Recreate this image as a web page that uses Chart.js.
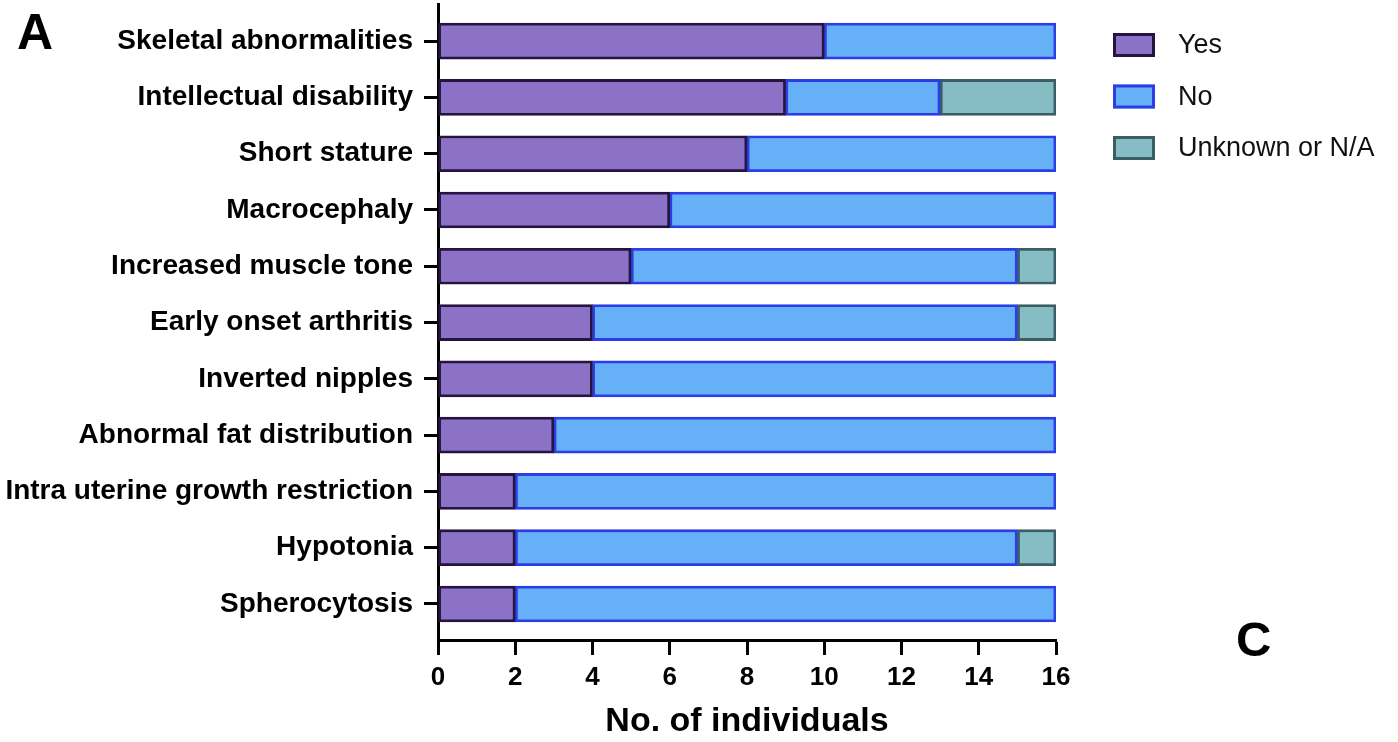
<!DOCTYPE html>
<html>
<head>
<meta charset="utf-8">
<script src="https://cdn.jsdelivr.net/npm/chart.js@4/dist/chart.umd.min.js"></script>
<style>
  html, body { margin: 0; padding: 0; background: #ffffff; }
  #wrap { width: 1398px; height: 742px; position: relative; }
</style>
</head>
<body>
<div id="wrap"><canvas id="c" width="1398" height="742"></canvas></div>
<script>
// Clinical features and the number of individuals in each answer group
const categories = [
  'Skeletal abnormalities',
  'Intellectual disability',
  'Short stature',
  'Macrocephaly',
  'Increased muscle tone',
  'Early onset arthritis',
  'Inverted nipples',
  'Abnormal fat distribution',
  'Intra uterine growth restriction',
  'Hypotonia',
  'Spherocytosis'
];
const yesCounts     = [10, 9, 8, 6, 5, 4, 4, 3, 2, 2, 2];
const noCounts      = [6, 4, 8, 10, 10, 11, 12, 13, 14, 13, 14];
const unknownCounts = [0, 3, 0, 0, 1, 1, 0, 0, 0, 1, 0];
const seriesNames   = ['Yes', 'No', 'Unknown or N/A'];
const xTicks        = [0, 2, 4, 6, 8, 10, 12, 14, 16];

const FONT = "'Liberation Sans', Arial, Helvetica, sans-serif";

const toPoints = arr => arr.map((v, i) => ({ x: v, y: i }));

// Legend and panel letters drawn on the canvas
const extras = {
  id: 'extras',
  afterDraw(chart) {
    const ctx = chart.ctx;
    ctx.save();
    const bx = 1113, bw = 42, bh = 24, y0 = 45, gap = 51.5;
    chart.data.datasets.forEach((ds, i) => {
      const cy = y0 + i * gap;
      ctx.fillStyle = ds.backgroundColor;
      ctx.fillRect(bx, cy - bh / 2, bw, bh);
      ctx.lineWidth = 3;
      ctx.strokeStyle = ds.borderColor;
      ctx.strokeRect(bx + 1.5, cy - bh / 2 + 1.5, bw - 3, bh - 3);
      ctx.fillStyle = '#111';
      ctx.font = '27px ' + FONT;
      ctx.textAlign = 'left';
      ctx.textBaseline = 'middle';
      ctx.fillText(ds.label, 1178, cy + 1);
    });
    ctx.fillStyle = '#000';
    ctx.font = 'bold 50px ' + FONT;
    ctx.textAlign = 'left';
    ctx.textBaseline = 'alphabetic';
    ctx.fillText('A', 17, 49);
    ctx.font = 'bold 49px ' + FONT;
    ctx.fillText('C', 1236, 656);
    ctx.restore();
  }
};

new Chart(document.getElementById('c'), {
  type: 'bar',
  data: {
    datasets: [
      {
        label: seriesNames[0],
        data: toPoints(yesCounts),
        backgroundColor: '#8b72c6',
        borderColor: '#24143f',
        borderWidth: 2.8,
        borderSkipped: false
      },
      {
        label: seriesNames[1],
        data: toPoints(noCounts),
        backgroundColor: '#66b0f8',
        borderColor: '#2c3de6',
        borderWidth: 2.8,
        borderSkipped: false
      },
      {
        label: seriesNames[2],
        data: toPoints(unknownCounts),
        backgroundColor: '#86bcc4',
        borderColor: '#3a5e64',
        borderWidth: 2.8,
        borderSkipped: false
      }
    ]
  },
  options: {
    responsive: false,
    animation: false,
    indexAxis: 'y',
    barThickness: 36,
    layout: { padding: { top: 4, right: 342, left: 0, bottom: 0 } },
    plugins: {
      legend: { display: false },
      tooltip: { enabled: false }
    },
    scales: {
      x: {
        type: 'linear',
        stacked: true,
        min: 0,
        max: 16,
        afterBuildTicks: s => { s.ticks = xTicks.map(v => ({ value: v })); },
        afterFit: s => { s.height = 102; },
        grid: {
          drawOnChartArea: false,
          drawTicks: true,
          tickLength: 15,
          tickWidth: 3,
          tickColor: '#000'
        },
        border: { display: true, color: '#000', width: 3 },
        ticks: {
          color: '#000',
          padding: 7,
          font: { family: FONT, size: 26, weight: 'bold' }
        },
        title: {
          display: true,
          text: 'No. of individuals',
          color: '#000',
          padding: { top: 0, bottom: 3 },
          font: { family: FONT, size: 34, weight: 'bold', lineHeight: 1 }
        }
      },
      y: {
        type: 'linear',
        stacked: true,
        reverse: true,
        offset: false,
        min: -0.66,
        max: categories.length - 1 + 0.64,
        afterBuildTicks: s => { s.ticks = categories.map((_, i) => ({ value: i })); },
        afterFit: s => { s.width = 438; s.paddingTop = 0; s.paddingBottom = 0; },
        grid: {
          offset: false,
          drawOnChartArea: false,
          drawTicks: true,
          tickLength: 14,
          tickWidth: 3,
          tickColor: '#000'
        },
        border: { display: true, color: '#000', width: 3 },
        ticks: {
          color: '#000',
          padding: 11,
          autoSkip: false,
          font: { family: FONT, size: 28, weight: 'bold' },
          callback: v => categories[v] !== undefined ? categories[v] : ''
        }
      }
    }
  },
  plugins: [extras]
});
</script>
</body>
</html>
